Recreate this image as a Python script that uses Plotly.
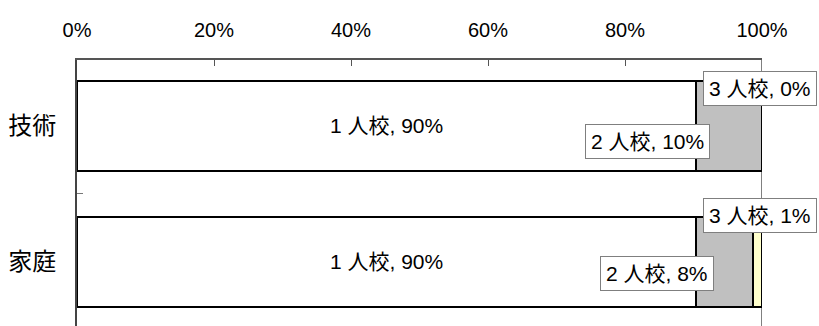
import plotly.graph_objects as go

categories = ["技術", "家庭"]
series_names = ["1 人校", "2 人校", "3 人校"]
s1 = [0.904, 0.904]
s2 = [0.096, 0.083]
s3 = [0.0, 0.013]
colors = ["#FFFFFF", "#C0C0C0", "#FFFFCC"]
tick_vals = [0, 0.2, 0.4, 0.6, 0.8, 1.0]

FONT = "Liberation Sans, Noto Sans CJK JP, sans-serif"

fig = go.Figure()
series = [s1, s2, s3]
for i, (name, vals) in enumerate(zip(series_names, series)):
    fig.add_trace(go.Bar(
        y=categories, x=vals, orientation="h", name=name,
        marker=dict(color=colors[i], line=dict(color="black", width=2)),
        text=[f"{name}, {v*100:.0f}%" for v in vals] if i == 0 else None,
        textposition="inside" if i == 0 else "none",
        insidetextanchor="middle",
        textfont=dict(family=FONT, size=21, color="black"),
        hoverinfo="skip",
    ))

# label boxes for 2人校 / 3人校
shifts = {
    (1, 0): (-82, -16), (2, 0): (-2, 37),
    (1, 1): (-68, -12), (2, 1): (2, 46),
}
for ci, cat in enumerate(categories):
    cum = 0.0
    for si, vals in enumerate(series):
        v = vals[ci]
        mid = cum + v / 2
        cum += v
        if si == 0:
            continue
        dx, dy = shifts[(si, ci)]
        fig.add_annotation(
            x=mid, y=cat, xref="x", yref="y",
            text=f"{series_names[si]}, {v*100:.0f}%",
            showarrow=False, xshift=dx, yshift=dy,
            xanchor="center", yanchor="middle",
            bgcolor="white", bordercolor="#7f7f7f", borderwidth=1, borderpad=5,
            font=dict(family=FONT, size=21, color="black"),
        )

# vertical line at 100%
fig.add_shape(type="line", xref="x", yref="paper", x0=1, x1=1, y0=0, y1=1,
              line=dict(color="#808080", width=2), layer="below")

fig.update_layout(
    width=819, height=326,
    margin=dict(l=77, r=57, t=60, b=0),
    barmode="stack", bargap=0.338,
    plot_bgcolor="white", paper_bgcolor="white",
    showlegend=False,
    font=dict(family=FONT, color="black"),
    xaxis=dict(
        side="top", range=[0, 1], tickvals=tick_vals, tickformat=".0%",
        ticks="inside", ticklen=6, tickcolor="#555", tickwidth=1,
        showline=True, linecolor="#555", linewidth=2,
        showgrid=False, zeroline=False,
        tickfont=dict(family=FONT, size=20, color="black"),
        ticklabelstandoff=13,
    ),
    yaxis=dict(
        type="category", range=[1.471, -0.485],
        tickson="boundaries", ticks="inside", ticklen=6, tickcolor="#777",
        showline=True, linecolor="#444", linewidth=2,
        showgrid=False, zeroline=False,
        tickfont=dict(family=FONT, size=24, color="black"),
        ticklabelstandoff=14,
    ),
)

fig.write_html("out.html")
